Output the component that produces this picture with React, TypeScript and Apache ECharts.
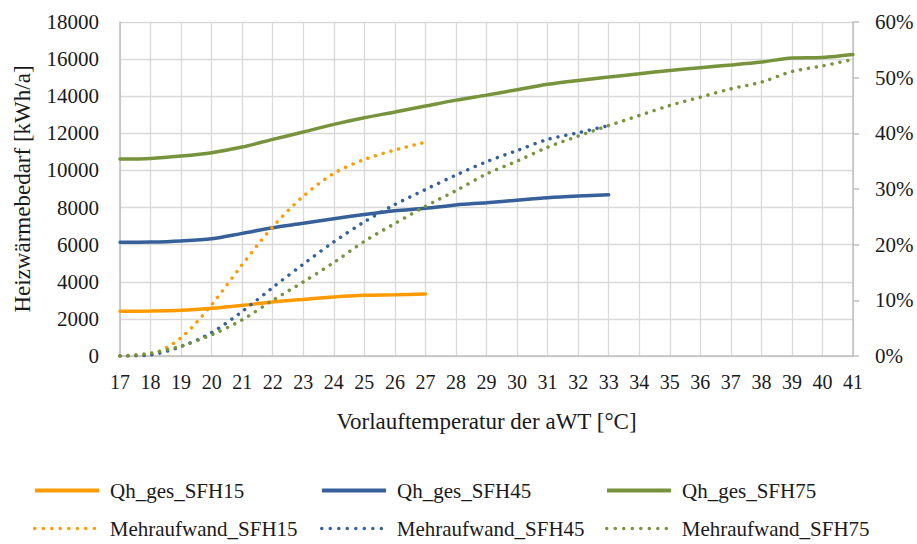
import { useEffect, useRef } from 'react';
import * as echarts from 'echarts';

const categories = ['17','18','19','20','21','22','23','24','25','26','27','28','29','30','31','32','33','34','35','36','37','38','39','40','41'];

const qhSFH15 = [2410, 2420, 2460, 2570, 2730, 2910, 3050, 3180, 3270, 3300, 3340];
const qhSFH45 = [6125, 6140, 6200, 6320, 6610, 6915, 7150, 7400, 7630, 7830, 7960, 8140, 8260, 8400, 8530, 8620, 8690];
const qhSFH75 = [10615, 10650, 10776, 10956, 11260, 11674, 12069, 12482, 12840, 13150, 13470, 13790, 14060, 14350, 14640, 14850, 15030, 15210, 15390, 15540, 15680, 15840, 16060, 16090, 16250];

const mehrSFH15 = [0, 0.3, 3.3, 9.2, 16.4, 23.2, 28.7, 32.8, 35.3, 37.0, 38.4];
const mehrSFH45 = [0, 0.2, 1.7, 4.2, 8.0, 12.3, 16.5, 20.5, 24.1, 27.2, 29.9, 32.5, 34.9, 36.9, 38.9, 40.1, 41.4];
const mehrSFH75 = [0, 0.5, 1.8, 3.8, 6.5, 10.0, 13.3, 16.8, 20.6, 23.8, 26.9, 29.7, 32.7, 35.0, 37.5, 39.5, 41.4, 43.2, 45.0, 46.5, 48.0, 49.2, 51.1, 52.1, 53.3];

const seriesNames = ['Qh_ges_SFH15', 'Qh_ges_SFH45', 'Qh_ges_SFH75', 'Mehraufwand_SFH15', 'Mehraufwand_SFH45', 'Mehraufwand_SFH75'];

const ORANGE = '#FF9B00';
const BLUE = '#36609A';
const GREEN = '#77933C';
const FONT = 'Liberation Serif';
const TXT = '#1a1a1a';

export default function App() {
  const ref = useRef<HTMLDivElement>(null);
  useEffect(() => {
    if (!ref.current) return;
    const chart = echarts.init(ref.current, undefined, { renderer: 'svg' });
    const solid = (name: string, data: number[], color: string) => ({
      name, type: 'line', data, yAxisIndex: 0, symbol: 'none', smooth: 0.3, color,
      lineStyle: { color, width: 3.5, cap: 'round' },
    });
    const dotted = (name: string, data: number[], color: string) => ({
      name, type: 'line', data, yAxisIndex: 1, symbol: 'none', smooth: 0.3, color,
      lineStyle: { color, width: 3.5, type: [0.01, 8], cap: 'round' },
    });
    const legendPos = [
      [33, 480], [320, 480], [605, 480],
      [33, 518], [320, 518], [605, 518],
    ];
    chart.setOption({
      animation: false,
      textStyle: { fontFamily: FONT },
      grid: { left: 120, right: 64, top: 22, bottom: 188 },
      legend: seriesNames.map((n, i) => ({
        data: [n], left: legendPos[i][0], top: legendPos[i][1], padding: 0,
        itemWidth: 64, itemHeight: 14,
        itemStyle: { opacity: 0 },
        lineStyle: i < 3
          ? { width: 4, cap: 'butt' }
          : { width: 3.5, type: [0.01, 8.5], cap: 'round' },
        textStyle: { fontFamily: FONT, fontSize: 21, color: TXT, padding: [0, 0, 0, 6] },
      })),
      xAxis: {
        type: 'category', data: categories, boundaryGap: false,
        axisLine: { show: true, lineStyle: { color: '#BFBFBF', width: 1.5 } },
        axisTick: { show: false },
        splitLine: { show: true, lineStyle: { color: '#D9D9D9', width: 1.3 } },
        axisLabel: { fontFamily: FONT, fontSize: 20, color: TXT, margin: 16, interval: 0 },
        name: 'Vorlauftemperatur der aWT [°C]', nameLocation: 'middle', nameGap: 54,
        nameTextStyle: { fontFamily: FONT, fontSize: 23, color: TXT },
      },
      yAxis: [
        {
          type: 'value', min: 0, max: 18000, interval: 2000,
          axisLine: { show: true, lineStyle: { color: '#BFBFBF', width: 1.5 } },
          axisTick: { show: false },
          splitLine: { show: true, lineStyle: { color: '#D9D9D9', width: 1.3 } },
          axisLabel: { fontFamily: FONT, fontSize: 21, color: TXT, margin: 21, formatter: (v: number) => String(v) },
          name: 'Heizwärmebedarf [kWh/a]', nameLocation: 'middle', nameGap: 86,
          nameTextStyle: { fontFamily: FONT, fontSize: 23, color: TXT },
        },
        {
          type: 'value', min: 0, max: 60, interval: 10, position: 'right',
          axisLine: { show: true, lineStyle: { color: '#BFBFBF', width: 1.5 } },
          axisTick: { show: true, length: 6, lineStyle: { color: '#BFBFBF', width: 1.5 } },
          splitLine: { show: false },
          axisLabel: { fontFamily: FONT, fontSize: 21, color: TXT, margin: 22, formatter: '{value}%' },
        },
      ],
      series: [
        solid(seriesNames[0], qhSFH15, ORANGE),
        solid(seriesNames[1], qhSFH45, BLUE),
        solid(seriesNames[2], qhSFH75, GREEN),
        dotted(seriesNames[3], mehrSFH15, ORANGE),
        dotted(seriesNames[4], mehrSFH45, BLUE),
        dotted(seriesNames[5], mehrSFH75, GREEN),
      ],
    });
    return () => chart.dispose();
  }, []);
  return <div ref={ref} style={{ width: 917, height: 544, position: 'absolute', left: 0, top: 0 }} />;
}
